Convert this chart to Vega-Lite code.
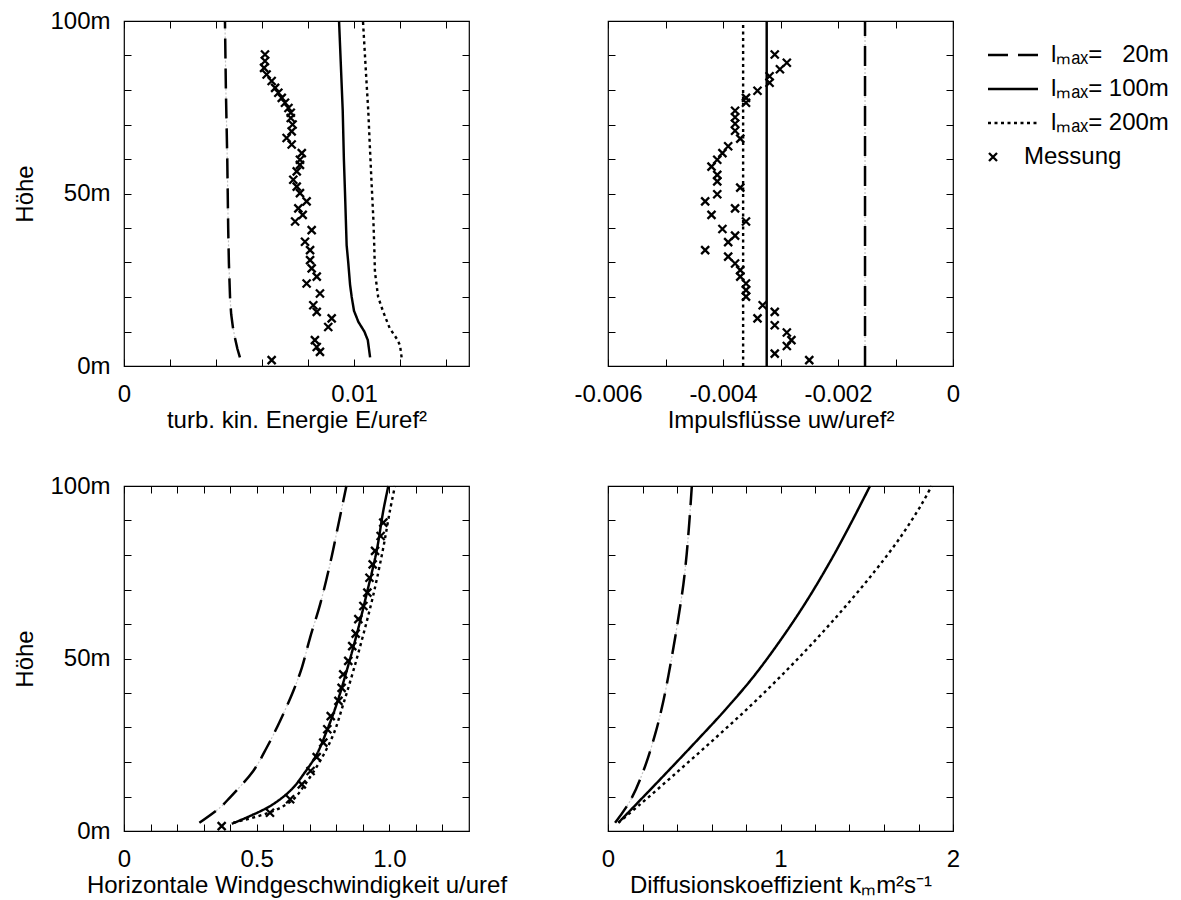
{
  "$schema": "https://vega.github.io/schema/vega-lite/v6.json",
  "background": "white",
  "padding": {"left": 13, "top": 8, "right": 5, "bottom": 5},
  "config": {
    "view": {"stroke": "black", "strokeWidth": 1.2},
    "font": "Liberation Sans",
    "axis": {
      "domain": false, "grid": false, "ticks": true, "tickSize": -7, "tickColor": "black", "tickWidth": 1,
      "labelFont": "Liberation Sans", "labelFontSize": 24, "labelColor": "black",
      "titleFont": "Liberation Sans", "titleFontSize": 24, "titleFontWeight": "normal", "titleColor": "black",
      "labelOverlap": false, "labelFlush": false, "labelBound": false
    },
    "legend": {"labelFont": "Liberation Sans", "labelFontSize": 24, "labelColor": "black", "padding": 0}
  },
  "datasets": {
    "lines": [
      {"p": "E", "s": "l20", "h": 2.5, "v": 0.00504}, {"p": "E", "s": "l20", "h": 5, "v": 0.00493}, {"p": "E", "s": "l20", "h": 8, "v": 0.00483}, {"p": "E", "s": "l20", "h": 11, "v": 0.00474}, {"p": "E", "s": "l20", "h": 15, "v": 0.00466}, {"p": "E", "s": "l20", "h": 20, "v": 0.00461}, {"p": "E", "s": "l20", "h": 30, "v": 0.00456}, {"p": "E", "s": "l20", "h": 40, "v": 0.00453}, {"p": "E", "s": "l20", "h": 50, "v": 0.00451}, {"p": "E", "s": "l20", "h": 60, "v": 0.00449}, {"p": "E", "s": "l20", "h": 70, "v": 0.00446}, {"p": "E", "s": "l20", "h": 80, "v": 0.00443}, {"p": "E", "s": "l20", "h": 90, "v": 0.00441}, {"p": "E", "s": "l20", "h": 100, "v": 0.00439},
      {"p": "E", "s": "l100", "h": 2.5, "v": 0.0107}, {"p": "E", "s": "l100", "h": 7.5, "v": 0.0106}, {"p": "E", "s": "l100", "h": 10, "v": 0.01045}, {"p": "E", "s": "l100", "h": 12.8, "v": 0.01019}, {"p": "E", "s": "l100", "h": 16, "v": 0.01}, {"p": "E", "s": "l100", "h": 20, "v": 0.0099}, {"p": "E", "s": "l100", "h": 23.5, "v": 0.00983}, {"p": "E", "s": "l100", "h": 30, "v": 0.00975}, {"p": "E", "s": "l100", "h": 35, "v": 0.00968}, {"p": "E", "s": "l100", "h": 50, "v": 0.00961}, {"p": "E", "s": "l100", "h": 60, "v": 0.00956}, {"p": "E", "s": "l100", "h": 74, "v": 0.00951}, {"p": "E", "s": "l100", "h": 87, "v": 0.00943}, {"p": "E", "s": "l100", "h": 100, "v": 0.00935},
      {"p": "E", "s": "l200", "h": 2.5, "v": 0.01207}, {"p": "E", "s": "l200", "h": 6, "v": 0.012}, {"p": "E", "s": "l200", "h": 7.9, "v": 0.01186}, {"p": "E", "s": "l200", "h": 11, "v": 0.01155}, {"p": "E", "s": "l200", "h": 15.7, "v": 0.01127}, {"p": "E", "s": "l200", "h": 20, "v": 0.01105}, {"p": "E", "s": "l200", "h": 27.3, "v": 0.01091}, {"p": "E", "s": "l200", "h": 35, "v": 0.01088}, {"p": "E", "s": "l200", "h": 42.8, "v": 0.01084}, {"p": "E", "s": "l200", "h": 55, "v": 0.01075}, {"p": "E", "s": "l200", "h": 65, "v": 0.01068}, {"p": "E", "s": "l200", "h": 74, "v": 0.01062}, {"p": "E", "s": "l200", "h": 85, "v": 0.01052}, {"p": "E", "s": "l200", "h": 100, "v": 0.01039},
      {"p": "uw", "s": "l20", "h": 0, "v": -0.00153}, {"p": "uw", "s": "l20", "h": 100, "v": -0.00153},
      {"p": "uw", "s": "l100", "h": 0, "v": -0.00324}, {"p": "uw", "s": "l100", "h": 100, "v": -0.00324},
      {"p": "uw", "s": "l200", "h": 0, "v": -0.00365}, {"p": "uw", "s": "l200", "h": 100, "v": -0.00365},
      {"p": "u", "s": "l20", "h": 2.4, "v": 0.284}, {"p": "u", "s": "l20", "h": 6.8, "v": 0.362}, {"p": "u", "s": "l20", "h": 9.7, "v": 0.399}, {"p": "u", "s": "l20", "h": 17.4, "v": 0.487}, {"p": "u", "s": "l20", "h": 24.2, "v": 0.538}, {"p": "u", "s": "l20", "h": 31.9, "v": 0.588}, {"p": "u", "s": "l20", "h": 40.6, "v": 0.638}, {"p": "u", "s": "l20", "h": 47.3, "v": 0.67}, {"p": "u", "s": "l20", "h": 56, "v": 0.701}, {"p": "u", "s": "l20", "h": 65.7, "v": 0.739}, {"p": "u", "s": "l20", "h": 77.3, "v": 0.776}, {"p": "u", "s": "l20", "h": 88.9, "v": 0.808}, {"p": "u", "s": "l20", "h": 100, "v": 0.838},
      {"p": "u", "s": "l100", "h": 2.1, "v": 0.406}, {"p": "u", "s": "l100", "h": 7.2, "v": 0.55}, {"p": "u", "s": "l100", "h": 12.1, "v": 0.632}, {"p": "u", "s": "l100", "h": 16.4, "v": 0.676}, {"p": "u", "s": "l100", "h": 22.2, "v": 0.726}, {"p": "u", "s": "l100", "h": 29, "v": 0.764}, {"p": "u", "s": "l100", "h": 36.7, "v": 0.801}, {"p": "u", "s": "l100", "h": 46.4, "v": 0.839}, {"p": "u", "s": "l100", "h": 57, "v": 0.877}, {"p": "u", "s": "l100", "h": 68.6, "v": 0.914}, {"p": "u", "s": "l100", "h": 81.2, "v": 0.952}, {"p": "u", "s": "l100", "h": 92.8, "v": 0.977}, {"p": "u", "s": "l100", "h": 100, "v": 0.996},
      {"p": "u", "s": "l200", "h": 2.4, "v": 0.412}, {"p": "u", "s": "l200", "h": 5.8, "v": 0.563}, {"p": "u", "s": "l200", "h": 9.2, "v": 0.638}, {"p": "u", "s": "l200", "h": 13.5, "v": 0.682}, {"p": "u", "s": "l200", "h": 20.3, "v": 0.739}, {"p": "u", "s": "l200", "h": 28, "v": 0.789}, {"p": "u", "s": "l200", "h": 36.7, "v": 0.826}, {"p": "u", "s": "l200", "h": 46.4, "v": 0.864}, {"p": "u", "s": "l200", "h": 57, "v": 0.902}, {"p": "u", "s": "l200", "h": 68.6, "v": 0.94}, {"p": "u", "s": "l200", "h": 82.1, "v": 0.977}, {"p": "u", "s": "l200", "h": 92.8, "v": 1.002}, {"p": "u", "s": "l200", "h": 100, "v": 1.021},
      {"p": "k", "s": "l20", "h": 2.4, "v": 0.041}, {"p": "k", "s": "l20", "h": 8.7, "v": 0.128}, {"p": "k", "s": "l20", "h": 17.4, "v": 0.205}, {"p": "k", "s": "l20", "h": 28, "v": 0.273}, {"p": "k", "s": "l20", "h": 37.7, "v": 0.321}, {"p": "k", "s": "l20", "h": 50.2, "v": 0.369}, {"p": "k", "s": "l20", "h": 61.8, "v": 0.408}, {"p": "k", "s": "l20", "h": 71.5, "v": 0.437}, {"p": "k", "s": "l20", "h": 80.2, "v": 0.456}, {"p": "k", "s": "l20", "h": 89.9, "v": 0.472}, {"p": "k", "s": "l20", "h": 100, "v": 0.486},
      {"p": "k", "s": "l100", "h": 2.4, "v": 0.06}, {"p": "k", "s": "l100", "h": 11.6, "v": 0.238}, {"p": "k", "s": "l100", "h": 19.3, "v": 0.385}, {"p": "k", "s": "l100", "h": 27.1, "v": 0.532}, {"p": "k", "s": "l100", "h": 34.8, "v": 0.674}, {"p": "k", "s": "l100", "h": 44.4, "v": 0.838}, {"p": "k", "s": "l100", "h": 55.1, "v": 0.997}, {"p": "k", "s": "l100", "h": 66.7, "v": 1.152}, {"p": "k", "s": "l100", "h": 78.3, "v": 1.29}, {"p": "k", "s": "l100", "h": 88.9, "v": 1.405}, {"p": "k", "s": "l100", "h": 100, "v": 1.519},
      {"p": "k", "s": "l200", "h": 2.4, "v": 0.06}, {"p": "k", "s": "l200", "h": 7.7, "v": 0.186}, {"p": "k", "s": "l200", "h": 17.4, "v": 0.408}, {"p": "k", "s": "l200", "h": 27.1, "v": 0.626}, {"p": "k", "s": "l200", "h": 36.7, "v": 0.835}, {"p": "k", "s": "l200", "h": 46.4, "v": 1.032}, {"p": "k", "s": "l200", "h": 56, "v": 1.215}, {"p": "k", "s": "l200", "h": 65.7, "v": 1.387}, {"p": "k", "s": "l200", "h": 75.4, "v": 1.548}, {"p": "k", "s": "l200", "h": 85, "v": 1.693}, {"p": "k", "s": "l200", "h": 94.7, "v": 1.818}, {"p": "k", "s": "l200", "h": 100, "v": 1.876}
    ],
    "mess": [
      {"p": "E", "h": 90.3, "v": 0.00613}, {"p": "E", "h": 88.4, "v": 0.00613}, {"p": "E", "h": 86.4, "v": 0.00609}, {"p": "E", "h": 84.5, "v": 0.0062}, {"p": "E", "h": 82.6, "v": 0.00642}, {"p": "E", "h": 80.6, "v": 0.00657}, {"p": "E", "h": 79.2, "v": 0.00671}, {"p": "E", "h": 77.7, "v": 0.00686}, {"p": "E", "h": 76.3, "v": 0.007}, {"p": "E", "h": 74.8, "v": 0.00715}, {"p": "E", "h": 73.4, "v": 0.00725}, {"p": "E", "h": 71.9, "v": 0.00725}, {"p": "E", "h": 70, "v": 0.00733}, {"p": "E", "h": 68, "v": 0.00729}, {"p": "E", "h": 66.1, "v": 0.00707}, {"p": "E", "h": 64.2, "v": 0.00729}, {"p": "E", "h": 61.7, "v": 0.00773}, {"p": "E", "h": 59.8, "v": 0.00765}, {"p": "E", "h": 58.3, "v": 0.00765}, {"p": "E", "h": 56.4, "v": 0.00751}, {"p": "E", "h": 54, "v": 0.00736}, {"p": "E", "h": 52, "v": 0.00751}, {"p": "E", "h": 50.1, "v": 0.00765}, {"p": "E", "h": 47.7, "v": 0.00794}, {"p": "E", "h": 45.7, "v": 0.00758}, {"p": "E", "h": 43.8, "v": 0.00777}, {"p": "E", "h": 41.9, "v": 0.00744}, {"p": "E", "h": 39.4, "v": 0.00816}, {"p": "E", "h": 36, "v": 0.00787}, {"p": "E", "h": 33.6, "v": 0.00809}, {"p": "E", "h": 30.7, "v": 0.00809}, {"p": "E", "h": 28.3, "v": 0.00816}, {"p": "E", "h": 25.9, "v": 0.00838}, {"p": "E", "h": 23.9, "v": 0.00794}, {"p": "E", "h": 21, "v": 0.00852}, {"p": "E", "h": 17.6, "v": 0.00823}, {"p": "E", "h": 15.7, "v": 0.00838}, {"p": "E", "h": 13.8, "v": 0.00903}, {"p": "E", "h": 11.3, "v": 0.00888}, {"p": "E", "h": 7.5, "v": 0.0083}, {"p": "E", "h": 5.5, "v": 0.00838}, {"p": "E", "h": 4.1, "v": 0.00852}, {"p": "E", "h": 1.7, "v": 0.00642},
      {"p": "uw", "h": 90.3, "v": -0.0031}, {"p": "uw", "h": 87.9, "v": -0.00289}, {"p": "uw", "h": 86, "v": -0.00301}, {"p": "uw", "h": 84, "v": -0.00319}, {"p": "uw", "h": 82.1, "v": -0.00319}, {"p": "uw", "h": 79.8, "v": -0.0034}, {"p": "uw", "h": 77.7, "v": -0.0036}, {"p": "uw", "h": 76.3, "v": -0.0036}, {"p": "uw", "h": 74, "v": -0.00379}, {"p": "uw", "h": 72.1, "v": -0.00379}, {"p": "uw", "h": 70.2, "v": -0.00379}, {"p": "uw", "h": 68.2, "v": -0.00379}, {"p": "uw", "h": 65.9, "v": -0.0037}, {"p": "uw", "h": 63.7, "v": -0.00391}, {"p": "uw", "h": 61.7, "v": -0.00401}, {"p": "uw", "h": 59.8, "v": -0.0041}, {"p": "uw", "h": 57.8, "v": -0.0042}, {"p": "uw", "h": 55.4, "v": -0.0041}, {"p": "uw", "h": 53.5, "v": -0.0041}, {"p": "uw", "h": 51.7, "v": -0.0037}, {"p": "uw", "h": 49.8, "v": -0.0041}, {"p": "uw", "h": 47.7, "v": -0.00431}, {"p": "uw", "h": 45.7, "v": -0.00379}, {"p": "uw", "h": 43.8, "v": -0.0042}, {"p": "uw", "h": 41.9, "v": -0.0036}, {"p": "uw", "h": 39.7, "v": -0.00401}, {"p": "uw", "h": 37.8, "v": -0.00379}, {"p": "uw", "h": 35.9, "v": -0.00391}, {"p": "uw", "h": 33.6, "v": -0.00431}, {"p": "uw", "h": 31.7, "v": -0.00391}, {"p": "uw", "h": 29.7, "v": -0.00379}, {"p": "uw", "h": 27.8, "v": -0.0037}, {"p": "uw", "h": 25.9, "v": -0.0037}, {"p": "uw", "h": 23.9, "v": -0.0036}, {"p": "uw", "h": 22, "v": -0.0036}, {"p": "uw", "h": 20.1, "v": -0.0036}, {"p": "uw", "h": 17.6, "v": -0.00331}, {"p": "uw", "h": 15.7, "v": -0.0031}, {"p": "uw", "h": 13.8, "v": -0.0034}, {"p": "uw", "h": 11.8, "v": -0.0031}, {"p": "uw", "h": 9.7, "v": -0.00289}, {"p": "uw", "h": 7.5, "v": -0.00281}, {"p": "uw", "h": 5.8, "v": -0.00289}, {"p": "uw", "h": 3.6, "v": -0.0031}, {"p": "uw", "h": 1.7, "v": -0.0025},
      {"p": "u", "h": 1.4, "v": 0.368}, {"p": "u", "h": 5.3, "v": 0.55}, {"p": "u", "h": 9.2, "v": 0.626}, {"p": "u", "h": 13.5, "v": 0.67}, {"p": "u", "h": 17.4, "v": 0.703}, {"p": "u", "h": 21.4, "v": 0.726}, {"p": "u", "h": 25.6, "v": 0.751}, {"p": "u", "h": 29.5, "v": 0.766}, {"p": "u", "h": 33.3, "v": 0.779}, {"p": "u", "h": 37.7, "v": 0.808}, {"p": "u", "h": 41.5, "v": 0.82}, {"p": "u", "h": 45.4, "v": 0.826}, {"p": "u", "h": 49.3, "v": 0.845}, {"p": "u", "h": 53.6, "v": 0.86}, {"p": "u", "h": 57.2, "v": 0.873}, {"p": "u", "h": 61.4, "v": 0.883}, {"p": "u", "h": 65.2, "v": 0.902}, {"p": "u", "h": 69.1, "v": 0.917}, {"p": "u", "h": 73.4, "v": 0.925}, {"p": "u", "h": 77.3, "v": 0.937}, {"p": "u", "h": 81.2, "v": 0.946}, {"p": "u", "h": 85.5, "v": 0.967}, {"p": "u", "h": 89.4, "v": 0.977}
    ]
  },
  "columns": 2,
  "spacing": {"row": 120, "column": 139},
  "bounds": "flush",
  "resolve": {"scale": {"strokeDash": "independent", "shape": "independent", "strokeWidth": "independent"}},
  "concat": [
    {
      "width": 345, "height": 345,
      "layer": [
        {
          "data": {"name": "lines"},
          "transform": [{"filter": "datum.p == 'E' && datum.s == 'l20'"}],
          "mark": {"type": "line", "color": "#c4c4c4", "strokeWidth": 1.2, "strokeDash": [2, 2]},
          "encoding": {
            "x": {"field": "v", "type": "quantitative", "scale": {"domain": [0, 0.015], "nice": false, "zero": false}, "axis": null},
            "y": {"field": "h", "type": "quantitative", "scale": {"domain": [0, 100], "nice": false}, "axis": null},
            "order": {"field": "h"}
          }
        },
        {
          "data": {"name": "lines"},
          "transform": [{"filter": "datum.p == 'E'"}],
          "mark": {"type": "line", "color": "black"},
          "encoding": {
            "x": {"field": "v", "type": "quantitative", "scale": {"domain": [0, 0.015], "nice": false, "zero": false},
                  "axis": {"orient": "bottom", "values": [0, 0.002, 0.004, 0.006, 0.008, 0.01, 0.012, 0.014], "labelExpr": "datum.value == 0 ? '0' : datum.value == 0.01 ? '0.01' : ''", "labelPadding": 23, "title": "turb. kin. Energie E/uref²", "titlePadding": 2}},
            "y": {"field": "h", "type": "quantitative", "scale": {"domain": [0, 100], "nice": false},
                  "axis": {"orient": "left", "values": [0, 10, 20, 30, 40, 50, 60, 70, 80, 90, 100], "labelExpr": "datum.value == 0 || datum.value == 50 || datum.value == 100 ? datum.value + 'm' : ''", "labelPadding": 21, "title": "Höhe", "titlePadding": 12}},
            "order": {"field": "h"},
            "strokeDash": {"field": "s", "type": "nominal", "scale": {"domain": ["l20", "l100", "l200"], "range": [[20, 10], [1, 0], [3, 3.5]]}, "legend": null},
            "strokeWidth": {"field": "s", "type": "nominal", "scale": {"domain": ["l20", "l100", "l200"], "range": [2.5, 2.4, 2.8]}, "legend": null}
          }
        },
        {
          "data": {"name": "mess"},
          "transform": [{"filter": "datum.p == 'E'"}],
          "mark": {"type": "point", "shape": "M-0.8,-0.8L0.8,0.8M-0.8,0.8L0.8,-0.8", "size": 100, "color": "black", "strokeWidth": 2.3, "filled": false, "opacity": 1},
          "encoding": {
            "x": {"field": "v", "type": "quantitative", "scale": {"domain": [0, 0.015], "nice": false, "zero": false},
                  "axis": {"orient": "top", "values": [0, 0.002, 0.004, 0.006, 0.008, 0.01, 0.012, 0.014], "labels": false, "title": null}},
            "y": {"field": "h", "type": "quantitative", "scale": {"domain": [0, 100], "nice": false},
                  "axis": {"orient": "right", "values": [0, 10, 20, 30, 40, 50, 60, 70, 80, 90, 100], "labels": false, "title": null}}
          }
        }
      ],
      "resolve": {"axis": {"x": "independent", "y": "independent"}}
    },
    {
      "width": 345, "height": 345,
      "layer": [
        {
          "data": {"name": "lines"},
          "transform": [{"filter": "datum.p == 'uw' && datum.s == 'l20'"}],
          "mark": {"type": "line", "color": "#c4c4c4", "strokeWidth": 1.2, "strokeDash": [2, 2]},
          "encoding": {
            "x": {"field": "v", "type": "quantitative", "scale": {"domain": [-0.006, 0], "nice": false, "zero": false}, "axis": null},
            "y": {"field": "h", "type": "quantitative", "scale": {"domain": [0, 100], "nice": false}, "axis": null},
            "order": {"field": "h"}
          }
        },
        {
          "data": {"name": "lines"},
          "transform": [{"filter": "datum.p == 'uw'"}],
          "mark": {"type": "line", "color": "black"},
          "encoding": {
            "x": {"field": "v", "type": "quantitative", "scale": {"domain": [-0.006, 0], "nice": false, "zero": false},
                  "axis": {"orient": "bottom", "values": [-0.006, -0.005, -0.004, -0.003, -0.002, -0.001, 0], "labelExpr": "datum.value == -0.006 ? '-0.006' : datum.value == -0.004 ? '-0.004' : datum.value == -0.002 ? '-0.002' : datum.value == 0 ? '0' : ''", "labelPadding": 23, "title": "Impulsflüsse  uw/uref²", "titlePadding": 2}},
            "y": {"field": "h", "type": "quantitative", "scale": {"domain": [0, 100], "nice": false},
                  "axis": {"orient": "left", "values": [0, 10, 20, 30, 40, 50, 60, 70, 80, 90, 100], "labels": false, "title": null}},
            "order": {"field": "h"},
            "strokeWidth": {"field": "s", "type": "nominal", "scale": {"domain": ["l20", "l100", "l200"], "range": [2.5, 2.4, 2.8]}, "legend": null},
            "strokeDash": {"field": "s", "type": "nominal", "scale": {"domain": ["l20", "l100", "l200"], "range": [[20, 10], [1, 0], [3, 3.5]]},
                           "legend": {"orient": "none", "legendX": 368, "legendY": 22, "title": null, "symbolType": "M0,0H10", "symbolSize": 100, "symbolStrokeWidth": 2.4, "symbolStrokeColor": "black", "symbolFillColor": "transparent", "labelOffset": 51, "rowPadding": 10,
                                      "labelExpr": "datum.value == 'l20' ? 'lₘₐₓ= \u200720m' : datum.value == 'l100' ? 'lₘₐₓ= 100m' : 'lₘₐₓ= 200m'"}}
          }
        },
        {
          "data": {"name": "mess"},
          "transform": [{"filter": "datum.p == 'uw'"}],
          "mark": {"type": "point", "size": 100, "color": "black", "strokeWidth": 2.3, "filled": false, "opacity": 1},
          "encoding": {
            "x": {"field": "v", "type": "quantitative", "scale": {"domain": [-0.006, 0], "nice": false, "zero": false},
                  "axis": {"orient": "top", "values": [-0.006, -0.005, -0.004, -0.003, -0.002, -0.001, 0], "labels": false, "title": null}},
            "y": {"field": "h", "type": "quantitative", "scale": {"domain": [0, 100], "nice": false},
                  "axis": {"orient": "right", "values": [0, 10, 20, 30, 40, 50, 60, 70, 80, 90, 100], "labels": false, "title": null}},
            "shape": {"datum": "Messung", "type": "nominal", "scale": {"domain": ["Messung"], "range": ["M-0.8,-0.8L0.8,0.8M-0.8,0.8L0.8,-0.8"]},
                      "legend": {"orient": "none", "legendX": 373, "legendY": 124, "title": null, "symbolSize": 100, "symbolStrokeWidth": 2.3, "symbolStrokeColor": "black", "symbolFillColor": "transparent", "labelOffset": 19}}
          }
        }
      ],
      "resolve": {"axis": {"x": "independent", "y": "independent"}}
    },
    {
      "width": 345, "height": 345,
      "layer": [
        {
          "data": {"name": "lines"},
          "transform": [{"filter": "datum.p == 'u' && datum.s == 'l20'"}],
          "mark": {"type": "line", "color": "#c4c4c4", "strokeWidth": 1.2, "strokeDash": [2, 2], "interpolate": "catmull-rom"},
          "encoding": {
            "x": {"field": "v", "type": "quantitative", "scale": {"domain": [0, 1.3], "nice": false, "zero": false}, "axis": null},
            "y": {"field": "h", "type": "quantitative", "scale": {"domain": [0, 100], "nice": false}, "axis": null},
            "order": {"field": "h"}
          }
        },
        {
          "data": {"name": "lines"},
          "transform": [{"filter": "datum.p == 'u'"}],
          "mark": {"type": "line", "color": "black", "interpolate": "catmull-rom"},
          "encoding": {
            "x": {"field": "v", "type": "quantitative", "scale": {"domain": [0, 1.3], "nice": false, "zero": false},
                  "axis": {"orient": "bottom", "values": [0, 0.1, 0.2, 0.3, 0.4, 0.5, 0.6, 0.7, 0.8, 0.9, 1, 1.1, 1.2], "labelExpr": "datum.value == 0 ? '0' : datum.value == 0.5 ? '0.5' : datum.value == 1 ? '1.0' : ''", "labelPadding": 23, "title": "Horizontale Windgeschwindigkeit u/uref", "titlePadding": 2}},
            "y": {"field": "h", "type": "quantitative", "scale": {"domain": [0, 100], "nice": false},
                  "axis": {"orient": "left", "values": [0, 10, 20, 30, 40, 50, 60, 70, 80, 90, 100], "labelExpr": "datum.value == 0 || datum.value == 50 || datum.value == 100 ? datum.value + 'm' : ''", "labelPadding": 21, "title": "Höhe", "titlePadding": 12}},
            "order": {"field": "h"},
            "strokeDash": {"field": "s", "type": "nominal", "scale": {"domain": ["l20", "l100", "l200"], "range": [[20, 10], [1, 0], [3, 3.5]]}, "legend": null},
            "strokeWidth": {"field": "s", "type": "nominal", "scale": {"domain": ["l20", "l100", "l200"], "range": [2.5, 2.4, 2.8]}, "legend": null}
          }
        },
        {
          "data": {"name": "mess"},
          "transform": [{"filter": "datum.p == 'u'"}],
          "mark": {"type": "point", "shape": "M-0.8,-0.8L0.8,0.8M-0.8,0.8L0.8,-0.8", "size": 100, "color": "black", "strokeWidth": 2.3, "filled": false, "opacity": 1},
          "encoding": {
            "x": {"field": "v", "type": "quantitative", "scale": {"domain": [0, 1.3], "nice": false, "zero": false},
                  "axis": {"orient": "top", "values": [0, 0.1, 0.2, 0.3, 0.4, 0.5, 0.6, 0.7, 0.8, 0.9, 1, 1.1, 1.2], "labels": false, "title": null}},
            "y": {"field": "h", "type": "quantitative", "scale": {"domain": [0, 100], "nice": false},
                  "axis": {"orient": "right", "values": [0, 10, 20, 30, 40, 50, 60, 70, 80, 90, 100], "labels": false, "title": null}}
          }
        }
      ],
      "resolve": {"axis": {"x": "independent", "y": "independent"}}
    },
    {
      "width": 345, "height": 345,
      "layer": [
        {
          "data": {"name": "lines"},
          "transform": [{"filter": "datum.p == 'k' && datum.s == 'l20'"}],
          "mark": {"type": "line", "color": "#c4c4c4", "strokeWidth": 1.2, "strokeDash": [2, 2], "interpolate": "catmull-rom"},
          "encoding": {
            "x": {"field": "v", "type": "quantitative", "scale": {"domain": [0, 2], "nice": false, "zero": false}, "axis": null},
            "y": {"field": "h", "type": "quantitative", "scale": {"domain": [0, 100], "nice": false}, "axis": null},
            "order": {"field": "h"}
          }
        },
        {
          "data": {"name": "lines"},
          "transform": [{"filter": "datum.p == 'k'"}],
          "mark": {"type": "line", "color": "black", "interpolate": "catmull-rom"},
          "encoding": {
            "x": {"field": "v", "type": "quantitative", "scale": {"domain": [0, 2], "nice": false, "zero": false},
                  "axis": {"orient": "bottom", "values": [0, 0.2, 0.4, 0.6, 0.8, 1, 1.2, 1.4, 1.6, 1.8, 2], "labelExpr": "datum.value == 0 ? '0' : datum.value == 1 ? '1' : datum.value == 2 ? '2' : ''", "labelPadding": 23, "title": "Diffusionskoeffizient kₘm²s⁻¹", "titlePadding": 2}},
            "y": {"field": "h", "type": "quantitative", "scale": {"domain": [0, 100], "nice": false},
                  "axis": {"orient": "left", "values": [0, 10, 20, 30, 40, 50, 60, 70, 80, 90, 100], "labels": false, "title": null}},
            "order": {"field": "h"},
            "strokeDash": {"field": "s", "type": "nominal", "scale": {"domain": ["l20", "l100", "l200"], "range": [[20, 10], [1, 0], [3, 3.5]]}, "legend": null},
            "strokeWidth": {"field": "s", "type": "nominal", "scale": {"domain": ["l20", "l100", "l200"], "range": [2.5, 2.4, 2.8]}, "legend": null}
          }
        },
        {
          "data": {"name": "lines"},
          "transform": [{"filter": "datum.p == 'k' && datum.s == 'l100'"}],
          "mark": {"type": "line", "color": "black", "strokeWidth": 0, "opacity": 0},
          "encoding": {
            "x": {"field": "v", "type": "quantitative", "scale": {"domain": [0, 2], "nice": false, "zero": false},
                  "axis": {"orient": "top", "values": [0, 0.2, 0.4, 0.6, 0.8, 1, 1.2, 1.4, 1.6, 1.8, 2], "labels": false, "title": null}},
            "y": {"field": "h", "type": "quantitative", "scale": {"domain": [0, 100], "nice": false},
                  "axis": {"orient": "right", "values": [0, 10, 20, 30, 40, 50, 60, 70, 80, 90, 100], "labels": false, "title": null}},
            "order": {"field": "h"}
          }
        }
      ],
      "resolve": {"axis": {"x": "independent", "y": "independent"}}
    }
  ]
}
